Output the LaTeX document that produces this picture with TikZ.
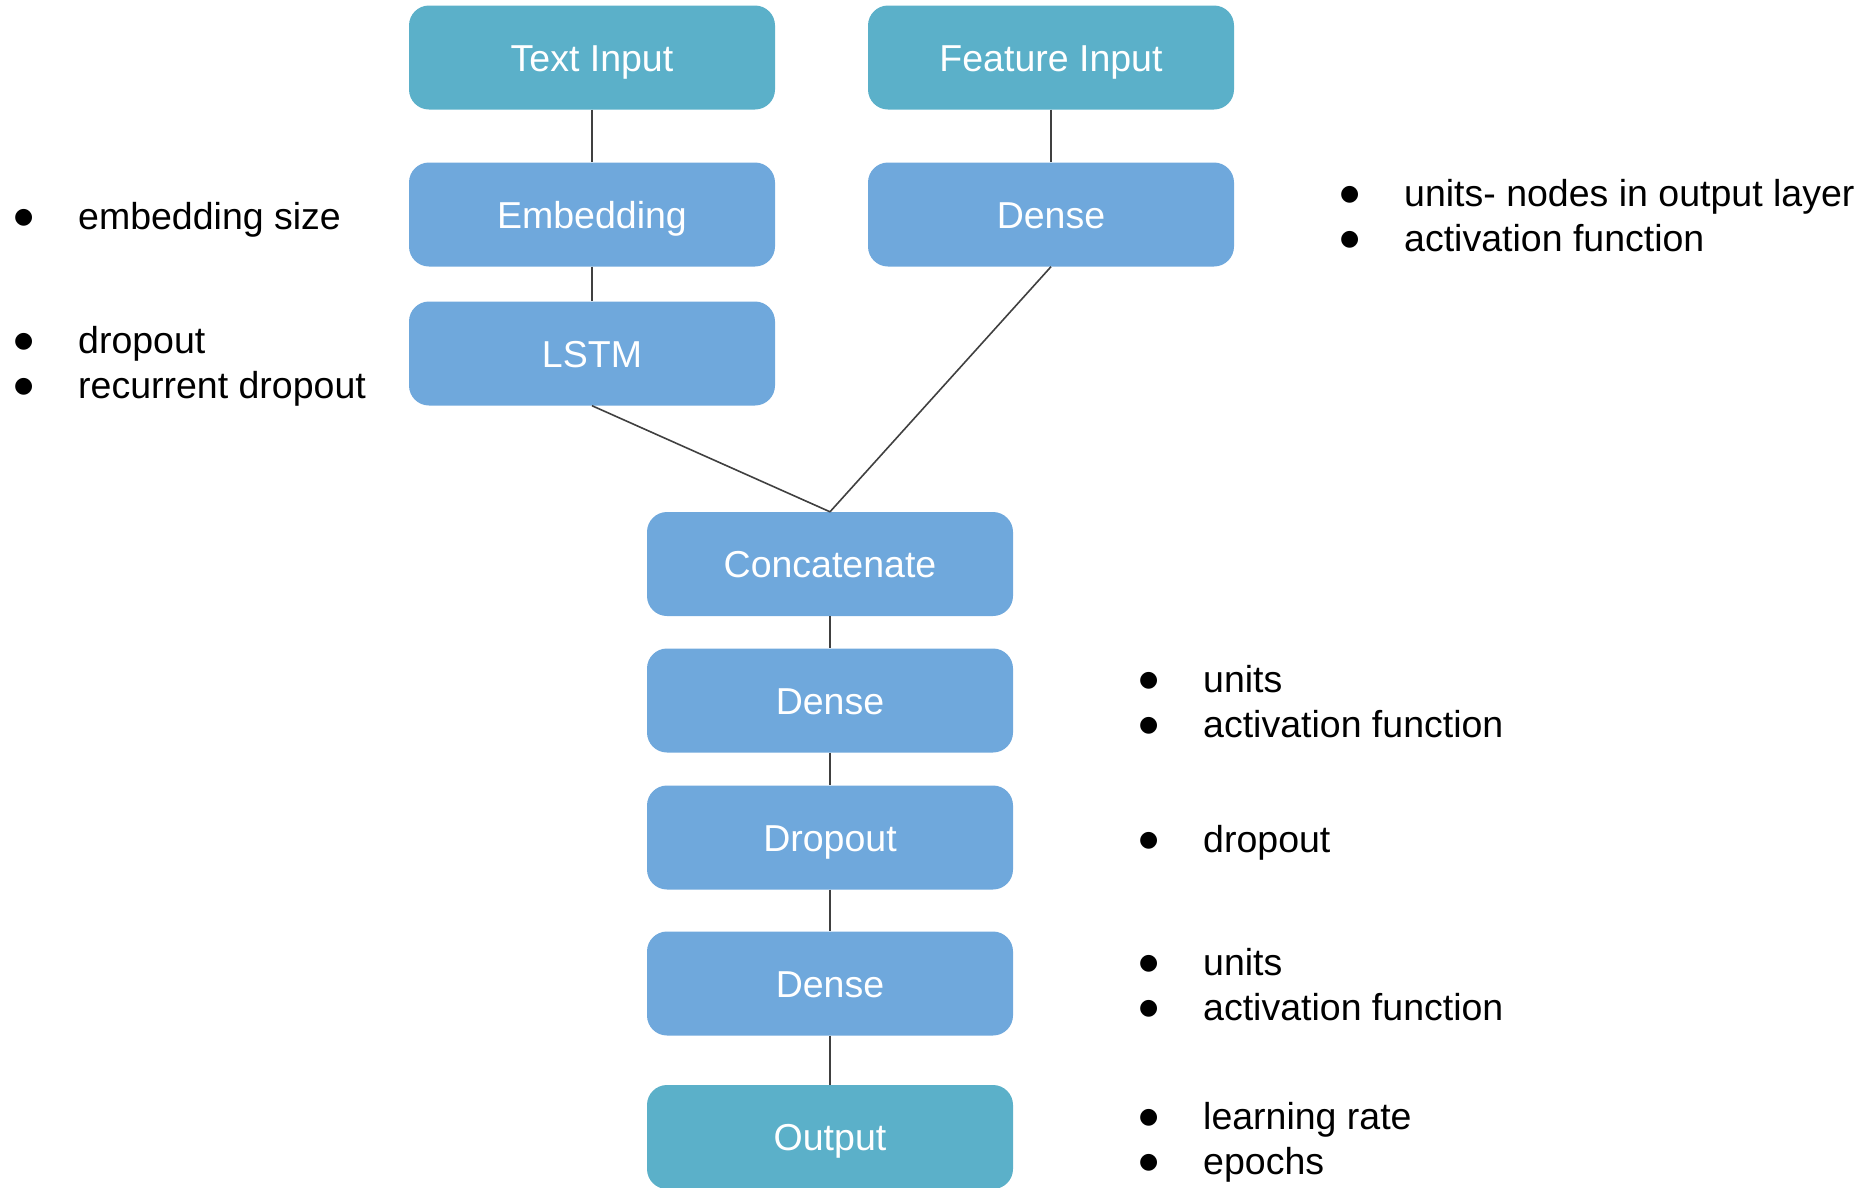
\documentclass[tikz,border=0pt]{standalone}
\usepackage{fontspec}
\setmainfont{Liberation Sans}
\newfontfamily\bulletfont{DejaVu Sans}
\definecolor{ioteal}{HTML}{5BB0C9}
\definecolor{layerblue}{HTML}{6FA8DC}
\definecolor{linkgray}{HTML}{404040}
\newcommand{\itm}[1]{\makebox[55pt][l]{\hspace*{-9pt}\raisebox{6pt}{\bulletfont\fontsize{22pt}{22pt}\selectfont ●}}#1}
\tikzset{
  layerbox/.style={draw=none, fill=layerblue, rounded corners=20pt,
    minimum width=366pt, minimum height=104pt, inner sep=0pt,
    text=white, font=\fontsize{37.5pt}{37.5pt}\selectfont,
    text height=27pt, text depth=0pt},
  iobox/.style={layerbox, fill=ioteal},
  link/.style={draw=linkgray, line width=1.6pt},
  note/.style={anchor=base west, inner sep=0pt, font=\fontsize{37.5pt}{37.5pt}\selectfont}
}
\begin{document}
\begin{tikzpicture}[x=1pt, y=-1pt]
\useasboundingbox (0,0) rectangle (1864,1187);
% input branch nodes
\node[iobox]    (txt)   at (592,57.5)  {Text Input};
\node[iobox]    (feat)  at (1051,57.5) {Feature Input};
\node[layerbox] (emb)   at (592,214.5) {Embedding};
\node[layerbox] (dns1)  at (1051,214.5) {Dense};
\node[layerbox] (lstm)  at (592,353.5) {LSTM};
% merged stack
\node[layerbox] (cat)   at (830,564)   {Concatenate};
\node[layerbox] (dns2)  at (830,700.5) {Dense};
\node[layerbox] (drop)  at (830,837.5) {Dropout};
\node[layerbox] (dns3)  at (830,983.5) {Dense};
\node[iobox]    (out)   at (830,1137)  {Output};
% connectors
\draw[link] (txt.south) -- (emb.north);
\draw[link] (feat.south) -- (dns1.north);
\draw[link] (emb.south) -- (lstm.north);
\draw[link] (lstm.south) -- (cat.north);
\draw[link] (dns1.south) -- (cat.north);
\draw[link] (cat.south) -- (dns2.north);
\draw[link] (dns2.south) -- (drop.north);
\draw[link] (drop.south) -- (dns3.north);
\draw[link] (dns3.south) -- (out.north);
% hyperparameter notes
\node[note] (nEmb)  at (23,229)   {\itm{embedding size}};
\node[note] (nDr1)  at (23,353)   {\itm{dropout}};
\node[note] (nDr2)  at (23,398)   {\itm{recurrent dropout}};
\node[note] (nU1)   at (1349,206) {\itm{units- nodes in output layer}};
\node[note] (nA1)   at (1349,251) {\itm{activation function}};
\node[note] (nU2)   at (1148,692) {\itm{units}};
\node[note] (nA2)   at (1148,737) {\itm{activation function}};
\node[note] (nDr3)  at (1148,852) {\itm{dropout}};
\node[note] (nU3)   at (1148,975) {\itm{units}};
\node[note] (nA3)   at (1148,1020){\itm{activation function}};
\node[note] (nLr)   at (1148,1129){\itm{learning rate}};
\node[note] (nEp)   at (1148,1174){\itm{epochs}};
\end{tikzpicture}
\end{document}
